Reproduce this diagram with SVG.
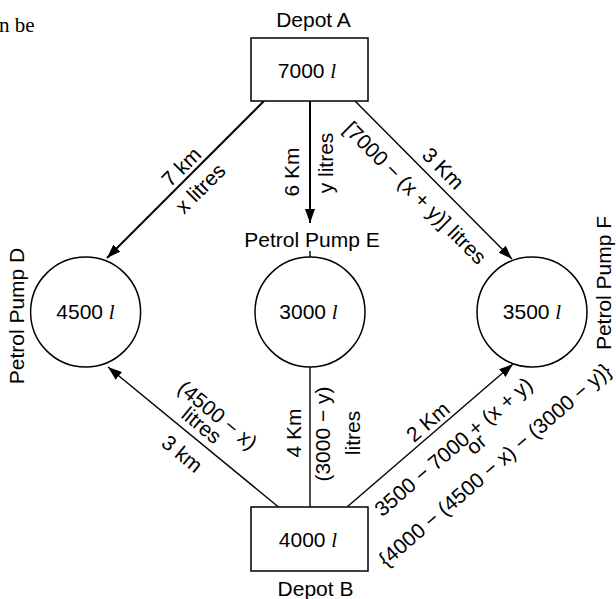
<svg xmlns="http://www.w3.org/2000/svg" width="616" height="599" viewBox="0 0 616 599">
<defs>
<style>
text{font-family:"Liberation Sans",Arial,sans-serif;font-size:21px;fill:#000}
.c{text-anchor:middle}
.it{font-family:"Liberation Serif","Times New Roman",serif;font-style:italic}
.node{fill:#fff;stroke:#000;stroke-width:1.5}
.edge{fill:none;stroke:#000;stroke-width:1.4}
.bold{stroke-width:2}
</style>
<marker id="arr" markerUnits="userSpaceOnUse" markerWidth="14" markerHeight="10" refX="14" refY="5" orient="auto">
<path d="M0,0 L14,5 L0,10 z" fill="#000"/>
</marker>
</defs>
<rect width="616" height="599" fill="#fff"/>
<text x="-1" y="32" style="font-family:'Liberation Serif','Times New Roman',serif">n be</text>

<g id="connectors">
<line class="edge bold" x1="264" y1="101" x2="107" y2="258" marker-end="url(#arr)"/>
<line class="edge bold" x1="310" y1="101" x2="310" y2="223" marker-end="url(#arr)"/>
<line class="edge" x1="355" y1="101" x2="512" y2="259" marker-end="url(#arr)"/>
<line class="edge" x1="278.5" y1="507" x2="108" y2="367" marker-end="url(#arr)"/>
<line class="edge" x1="310" y1="507" x2="310" y2="367"/>
<line class="edge" x1="347" y1="507" x2="513" y2="364" marker-end="url(#arr)"/>
<line class="edge" x1="310" y1="251" x2="310" y2="257"/>
</g>

<g id="edge-labels">
<text class="c" transform="translate(181.5,167) rotate(-45)" y="7">7 km</text>
<text class="c" transform="translate(200.5,188.5) rotate(-45)" y="7">x litres</text>
<text class="c" transform="translate(291.5,172) rotate(-90)" y="7">6 Km</text>
<text class="c" transform="translate(327,163) rotate(-90)" y="6">y litres</text>
<text class="c" transform="translate(443,168.5) rotate(45)" y="7">3 Km</text>
<text class="c" transform="translate(415,193) rotate(45)" y="7">[7000 − (x + y)] litres</text>
<text class="c" transform="translate(217.5,415.3) rotate(39.4)" y="7">(4500 − x)</text>
<text class="c" transform="translate(201.5,425.5) rotate(39.4)" y="7">litres</text>
<text class="c" transform="translate(182,454) rotate(39.4)" y="7">3 km</text>
<text class="c" transform="translate(293.5,433) rotate(-90)" y="7">4 Km</text>
<text class="c" transform="translate(322.5,434) rotate(-90)" y="7">(3000 − y)</text>
<text class="c" transform="translate(353,433) rotate(-90)" y="7">litres</text>
<text class="c" transform="translate(428,422) rotate(-40.7)" y="7">2 Km</text>
<text class="c" transform="translate(453.5,447) rotate(-40.7)" y="7">3500 − 7000 + (x + y)</text>
<text class="c" transform="translate(477,445) rotate(-40.7)" y="6">or</text>
<text class="c" transform="translate(495,465) rotate(-40.7)" y="7">{4000 − (4500 − x) − (3000 − y)}</text>
</g>

<g id="depotA">
<rect class="node" x="251" y="38" width="117" height="63"/>
<text class="c" x="313.5" y="27">Depot A</text>
<text class="c" x="307" y="78">7000 <tspan class="it">l</tspan></text>
</g>
<g id="depotB">
<rect class="node" x="251" y="507" width="117" height="64"/>
<text class="c" x="308" y="547">4000 <tspan class="it">l</tspan></text>
<text class="c" x="315.5" y="596">Depot B</text>
</g>
<g id="pumpD">
<circle class="node" cx="85.6" cy="312" r="55"/>
<text class="c" x="85.5" y="319">4500 <tspan class="it">l</tspan></text>
<text class="c" transform="translate(16.5,316) rotate(-90)" y="7.5">Petrol Pump D</text>
</g>
<g id="pumpE">
<circle class="node" cx="310" cy="312" r="55"/>
<text class="c" x="312" y="247">Petrol Pump E</text>
<text class="c" x="308.5" y="319">3000 <tspan class="it">l</tspan></text>
</g>
<g id="pumpF">
<circle class="node" cx="532" cy="312" r="55"/>
<text class="c" x="532" y="319">3500 <tspan class="it">l</tspan></text>
<text class="c" transform="translate(603,283) rotate(-90)" y="7.5">Petrol Pump F</text>
</g>
</svg>
